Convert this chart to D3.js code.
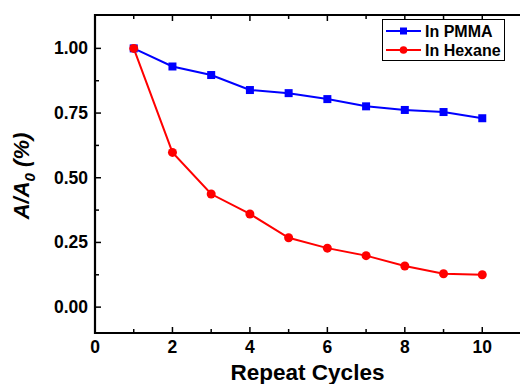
<!DOCTYPE html>
<html>
<head>
<meta charset="utf-8">
<script src="https://cdn.jsdelivr.net/npm/d3@7"></script>
<style>
  body { margin: 0; background: #fff; }
  text { font-family: "Liberation Sans", Arial, sans-serif; font-weight: bold; }
</style>
</head>
<body>
<div id="chart-area"></div>
<script>
// Data.
var cycles = [1, 2, 3, 4, 5, 6, 7, 8, 9, 10];
var pmma = [1.00, 0.93, 0.897, 0.839, 0.827, 0.804, 0.776, 0.762, 0.754, 0.730];
var hexane = [1.00, 0.598, 0.437, 0.360, 0.268, 0.228, 0.199, 0.159, 0.129, 0.125];
var seriesNames = ["In PMMA", "In Hexane"];
var xTicks = [0, 2, 4, 6, 8, 10];
var yTicks = [0.00, 0.25, 0.50, 0.75, 1.00];

var width = 520, height = 384;
var margin = {top: 15, right: 0, bottom: 51, left: 95};

var svg = d3.select("#chart-area")
    .append("svg")
    .attr("width", width)
    .attr("height", height);

// Scales
var x = d3.scaleLinear().domain([0, 11]).range([margin.left, 521]);
var y = d3.scaleLinear().domain([-0.1, 1.129]).range([height - margin.bottom, margin.top]);

var x0 = x.range()[0], x1 = x.range()[1];
var y0 = y.range()[0], y1 = y.range()[1];

// Minor ticks
var xMinor = [1, 3, 5, 7, 9];
var yMinor = [0.125, 0.375, 0.625, 0.875];

// Axis helper: ticks pointing inward
function tickLines(g, vals, isX, len, side) {
    vals.forEach(function(v) {
        if (isX) {
            var px = x(v);
            var py = side === "bottom" ? y0 : y1;
            var dir = side === "bottom" ? -1 : 1;
            g.append("line").attr("x1", px).attr("x2", px)
                .attr("y1", py).attr("y2", py + dir * len);
        } else {
            var py2 = y(v);
            g.append("line").attr("x1", x0).attr("x2", x0 + len)
                .attr("y1", py2).attr("y2", py2);
        }
    });
}

var axes = svg.append("g").attr("stroke", "#000").attr("stroke-width", 1.5);
tickLines(axes, xTicks.filter(function(d) { return d > 0; }), true, 6, "bottom");
tickLines(axes, xMinor, true, 4, "bottom");
tickLines(axes, xTicks.filter(function(d) { return d > 0; }), true, 6, "top");
tickLines(axes, xMinor, true, 4, "top");
tickLines(axes, yTicks, false, 6);
tickLines(axes, yMinor, false, 4);

// Frame (left, bottom, top)
svg.append("path")
    .attr("d", "M" + x1 + "," + y1 + "H" + x0 + "V" + y0 + "H" + x1)
    .attr("fill", "none")
    .attr("stroke", "#000")
    .attr("stroke-width", 2.2);

// Tick labels
svg.append("g").selectAll("text")
    .data(xTicks).enter().append("text")
    .attr("x", function(d) { return x(d); })
    .attr("y", 353)
    .attr("text-anchor", "middle")
    .style("font-size", "17.5px")
    .text(function(d) { return d; });

svg.append("g").selectAll("text")
    .data(yTicks).enter().append("text")
    .attr("x", 88)
    .attr("y", function(d) { return y(d) + 6; })
    .attr("text-anchor", "end")
    .style("font-size", "17.5px")
    .text(function(d) { return d3.format(".2f")(d); });

// Axis titles
svg.append("text")
    .attr("x", (x0 + 520) / 2)
    .attr("y", 380)
    .attr("text-anchor", "middle")
    .style("font-size", "22.5px")
    .text("Repeat Cycles");

var yt = svg.append("text")
    .attr("transform", "translate(29," + ((y0 + y1) / 2 + 2) + ") rotate(-90)")
    .attr("text-anchor", "middle")
    .style("font-size", "22px")
    .style("font-style", "italic");
yt.append("tspan").text("A/A");
yt.append("tspan").attr("dy", 6).style("font-size", "15px").text("0");
yt.append("tspan").attr("dy", -6).text(" (%)");

// Lines and markers
var line = d3.line()
    .x(function(d) { return x(d[0]); })
    .y(function(d) { return y(d[1]); });

var pmmaPts = d3.zip(cycles, pmma);
var hexPts = d3.zip(cycles, hexane);

svg.append("path").datum(hexPts)
    .attr("d", line).attr("fill", "none")
    .attr("stroke", "#ff0000").attr("stroke-width", 2);

svg.append("path").datum(pmmaPts)
    .attr("d", line).attr("fill", "none")
    .attr("stroke", "#0000ff").attr("stroke-width", 2);

svg.append("g").selectAll("rect")
    .data(pmmaPts).enter().append("rect")
    .attr("x", function(d) { return x(d[0]) - 4; })
    .attr("y", function(d) { return y(d[1]) - 4; })
    .attr("width", 8).attr("height", 8)
    .attr("fill", "#0000ff");

svg.append("g").selectAll("circle")
    .data(hexPts).enter().append("circle")
    .attr("cx", function(d) { return x(d[0]); })
    .attr("cy", function(d) { return y(d[1]); })
    .attr("r", 4.5)
    .attr("fill", "#ff0000");

// Legend
var legend = svg.append("g");
legend.append("rect")
    .attr("x", 382.5).attr("y", 19.5)
    .attr("width", 122).attr("height", 41)
    .attr("fill", "#fff")
    .attr("stroke", "#000").attr("stroke-width", 1);

var legendColors = ["#0000ff", "#ff0000"];
seriesNames.forEach(function(name, i) {
    var ly = 31 + i * 19;
    legend.append("line")
        .attr("x1", 386).attr("x2", 421)
        .attr("y1", ly).attr("y2", ly)
        .attr("stroke", legendColors[i]).attr("stroke-width", 2);
    if (i === 0) {
        legend.append("rect")
            .attr("x", 400).attr("y", ly - 3.5)
            .attr("width", 7).attr("height", 7)
            .attr("fill", legendColors[i]);
    } else {
        legend.append("circle")
            .attr("cx", 403.5).attr("cy", ly).attr("r", 3.8)
            .attr("fill", legendColors[i]);
    }
    legend.append("text")
        .attr("x", 425).attr("y", ly + 6)
        .style("font-size", "16px")
        .text(name);
});
</script>
</body>
</html>
